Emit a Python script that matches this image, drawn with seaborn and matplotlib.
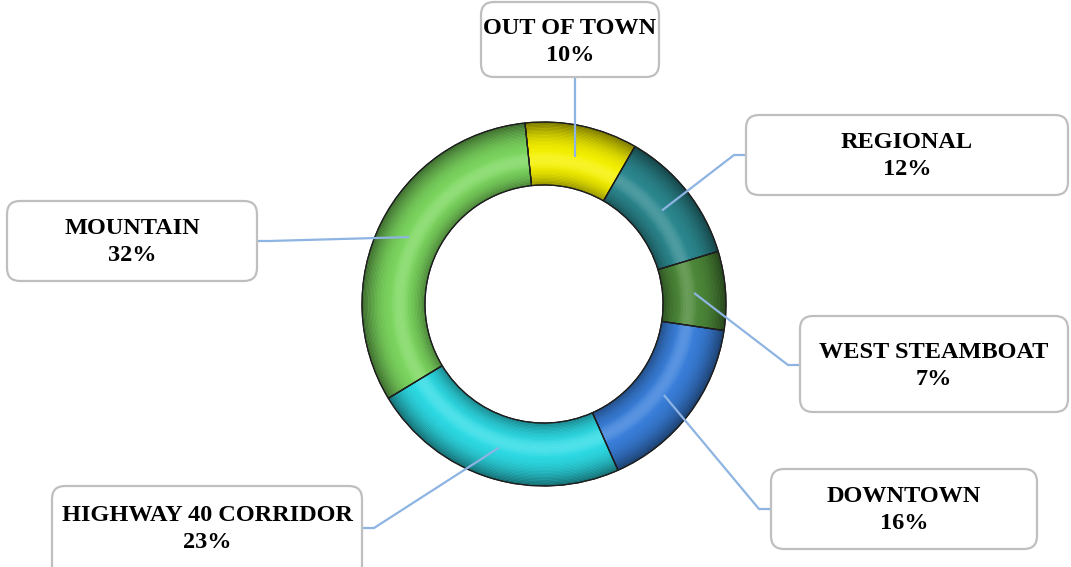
import numpy as np
import matplotlib
matplotlib.use("Agg")
import matplotlib.pyplot as plt
from matplotlib.patches import FancyBboxPatch
import seaborn as sns

# ---- data ----
categories = ["OUT OF TOWN", "REGIONAL", "WEST STEAMBOAT", "DOWNTOWN",
              "HIGHWAY 40 CORRIDOR", "MOUNTAIN"]
shares = [10, 12, 7, 16, 23, 32]
pct_labels = ["10%", "12%", "7%", "16%", "23%", "32%"]
colors = ["#F6F200", "#2C8990", "#4E8A3A", "#3A80DC", "#2EDCE6", "#7DD860"]

# ---- layout (pixel space, y measured from top of image) ----
W, H = 1071, 567
CX, CY = 544, 304
R_OUT, R_IN = 182, 119
START = 96
boxes = {
    "OUT OF TOWN": ((481, 2, 659, 77), (570, 42)),
    "REGIONAL": ((746, 115, 1068, 195), (907, 156)),
    "WEST STEAMBOAT": ((800, 316, 1068, 412), (934, 366)),
    "DOWNTOWN": ((771, 469, 1037, 549), (904, 510)),
    "HIGHWAY 40 CORRIDOR": ((52, 486, 362, 580), (207, 529)),
    "MOUNTAIN": ((7, 201, 257, 281), (132, 242)),
}

sns.set_theme(style="white")
plt.rcParams['font.family'] = ['Liberation Serif', 'DejaVu Serif']

fig = plt.figure(figsize=(W / 100, H / 100), dpi=100)
ax = fig.add_axes([0, 0, 1, 1])
ax.axis("off")

def fy(y):
    return H - y

center = (CX, fy(CY))
width = R_OUT - R_IN

# base donut
wedges, _ = ax.pie(shares, colors=colors, startangle=START, counterclock=False,
                   radius=R_OUT, center=center, frame=True,
                   wedgeprops=dict(width=width, edgecolor="#2a2a2a", linewidth=0.8))

# tube-like shading: many thin bands across the ring width
nb = 45
for k in range(nb):
    t = (k + 0.5) / nb
    r = R_IN + (k + 1) * width / nb
    shade = abs(t - 0.42) / (0.58 if t > 0.42 else 0.42)
    a_dark = (0.45 if t > 0.42 else 0.35) * shade ** 2.4
    ax.pie(shares, colors=[(0, 0, 0, a_dark)] * len(shares), startangle=START,
           counterclock=False, radius=r, center=center, frame=True,
           wedgeprops=dict(width=width / nb + 0.3, linewidth=0))
# soft highlight
nh = 12
for k in range(nh):
    t = (k + 0.5) / nh
    a = 0.14 * np.sin(np.pi * t)
    r = R_IN + width * (0.25 + 0.3 * (k + 1) / nh)
    ax.pie(shares, colors=[(1, 1, 1, a)] * len(shares), startangle=START,
           counterclock=False, radius=r, center=center, frame=True,
           wedgeprops=dict(width=width * 0.3 / nh + 0.3, linewidth=0))
# outline again
ax.pie(shares, colors=["none"] * len(shares), startangle=START,
       counterclock=False, radius=R_OUT, center=center, frame=True,
       wedgeprops=dict(width=width, edgecolor="#1e1e1e", linewidth=0.9, fill=False))

# labels with leader lines
line_color = "#8DB4E2"
r_mid = (R_OUT + R_IN) / 2
for w, cat, pct in zip(wedges, categories, pct_labels):
    ang = np.deg2rad((w.theta1 + w.theta2) / 2)
    ax_, ay_ = center[0] + r_mid * np.cos(ang), center[1] + r_mid * np.sin(ang)
    (x0, y0, x1, y1), (tx, ty) = boxes[cat]
    box = FancyBboxPatch((x0, fy(y1)), x1 - x0, y1 - y0,
                         boxstyle="round,pad=0,rounding_size=13",
                         facecolor="white", edgecolor="#BFBFBF", linewidth=1.6,
                         zorder=5)
    ax.add_patch(box)
    if cat == "OUT OF TOWN":
        xs, ys = [ax_, ax_], [ay_, fy(y1)]
    elif tx > CX:
        xs, ys = [ax_, x0 - 12, x0], [ay_, fy(ty - 1), fy(ty - 1)]
    else:
        xs, ys = [ax_, x1 + 12, x1], [ay_, fy(ty - 1), fy(ty - 1)]
    ax.plot(xs, ys, color=line_color, lw=1.6, zorder=4, solid_capstyle="butt")
    ax.text(tx, fy(ty), f"{cat}\n{pct}", ha="center", va="center",
            fontsize=17.5, fontweight="bold", color="black",
            linespacing=1.43, zorder=6)

ax.set_xlim(0, W)
ax.set_ylim(0, H)
ax.set_aspect("auto")
fig.savefig("out.png", dpi=100, facecolor="white")
